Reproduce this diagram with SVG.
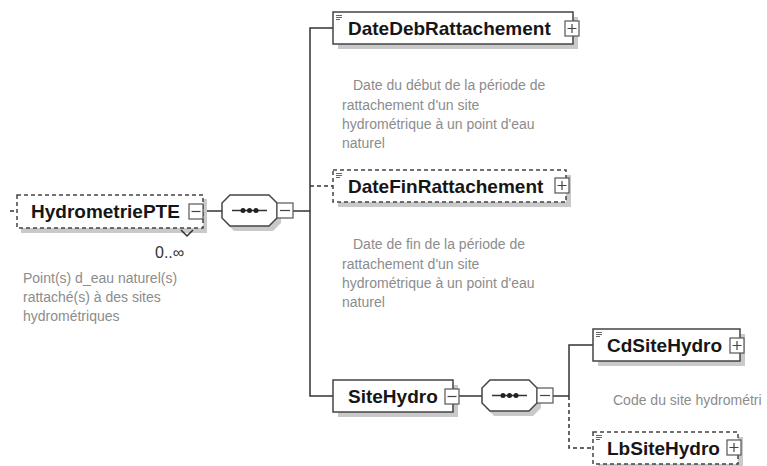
<svg xmlns="http://www.w3.org/2000/svg" xmlns:xlink="http://www.w3.org/1999/xlink" width="767" height="466" viewBox="0 0 767 466">
<style>
.box{fill:#fff;stroke:#444;stroke-width:1.5}
.opt{stroke-dasharray:4 3}
.shadow{fill:#c9c9c9}
.name{font-family:"Liberation Sans",Arial,sans-serif;font-weight:bold;font-size:19px;fill:#161616}
.desc{font-family:"Liberation Sans",Arial,sans-serif;font-size:14px;fill:#8c8c8c}
.card{font-family:"Liberation Sans",Arial,sans-serif;font-size:16px;fill:#333}
.btn{fill:#fff;stroke:#555;stroke-width:1.2}
.sign{stroke:#444;stroke-width:1.2;fill:none}
.conn{stroke:#333;stroke-width:1.5;fill:none}
.dash{stroke-dasharray:4 3}
.ic{stroke:#666;stroke-width:1;fill:none}
</style>
<defs>
<g id="plus"><rect x="0" y="0" width="14" height="15" class="btn"/><path class="sign" d="M2.5 7.5H11.5M7 3V12"/></g>
<g id="minus"><rect x="0" y="0" width="14" height="15" class="btn"/><path class="sign" d="M2.5 7.5H11.5"/></g>
<g id="icon"><path class="ic" d="M1 1.5H7M1 3.5H7M1 5.5H5"/></g>
<g id="seq">
<path class="shadow" d="M12 5H51L59 13V28L51 36H12L4 28V13Z"/>
<path class="box" d="M8 0H47L55 8V23L47 31H8L0 23V8Z"/>
<path class="conn" d="M10 15.5H45"/>
<circle cx="21" cy="15.5" r="2.5" fill="#222"/>
<circle cx="27.5" cy="15.5" r="2.5" fill="#222"/>
<circle cx="34" cy="15.5" r="2.5" fill="#222"/>
<rect x="55" y="8" width="16" height="15" class="btn"/>
<path class="sign" d="M58 15.5H68"/>
</g>
</defs>

<g id="connectors">
<path class="conn dash" d="M10 211H17"/>
<path class="conn" d="M203 211H222"/>
<path class="conn" d="M293 211H310"/>
<path class="conn" d="M333 28H310V396H333"/>
<path class="conn dash" d="M310 186H333"/>
<path class="conn" d="M459 396H482"/>
<path class="conn" d="M553 396H569"/>
<path class="conn" d="M593 345H569V396"/>
<path class="conn dash" d="M569 396V448H593"/>
</g>

<g id="HydrometriePTE">
<rect class="shadow" x="21" y="199" width="186" height="34"/>
<rect class="box opt" x="17" y="195" width="186" height="33"/>
<path class="conn" d="M181 230L187 236L193 230" stroke-width="1.2"/>
<text class="name" x="31" y="218">HydrometriePTE</text>
<use xlink:href="#minus" x="189" y="204"/>
<text class="card" x="155" y="258">0..∞</text>
<text class="desc" x="23" y="283">Point(s) d_eau naturel(s)</text>
<text class="desc" x="23" y="302">rattaché(s) à des sites</text>
<text class="desc" x="23" y="321">hydrométriques</text>
</g>

<g id="seq1">
<use xlink:href="#seq" x="222" y="195"/>
</g>

<g id="DateDebRattachement">
<rect class="shadow" x="338" y="17" width="240" height="32"/>
<rect class="box" x="333" y="12" width="240" height="32"/>
<use xlink:href="#icon" x="335" y="14"/>
<text class="name" x="348" y="35">DateDebRattachement</text>
<use xlink:href="#plus" x="565" y="21"/>
<text class="desc" x="353" y="90">Date du début de la période de</text>
<text class="desc" x="342" y="110">rattachement d'un site</text>
<text class="desc" x="342" y="129">hydrométrique à un point d'eau</text>
<text class="desc" x="342" y="148">naturel</text>
</g>

<g id="DateFinRattachement">
<rect class="shadow" x="338" y="175" width="233" height="32"/>
<rect class="box opt" x="333" y="170" width="233" height="32"/>
<use xlink:href="#icon" x="335" y="172"/>
<text class="name" x="348" y="193">DateFinRattachement</text>
<use xlink:href="#plus" x="555" y="178"/>
<text class="desc" x="353" y="249">Date de fin de la période de</text>
<text class="desc" x="342" y="269">rattachement d'un site</text>
<text class="desc" x="342" y="288">hydrométrique à un point d'eau</text>
<text class="desc" x="342" y="307">naturel</text>
</g>

<g id="SiteHydro">
<rect class="shadow" x="338" y="385" width="120" height="32"/>
<rect class="box" x="333" y="380" width="120" height="32"/>
<text class="name" x="348" y="403">SiteHydro</text>
<use xlink:href="#minus" x="445" y="389"/>
</g>

<g id="seq2">
<use xlink:href="#seq" x="482" y="380"/>
</g>

<g id="CdSiteHydro">
<rect class="shadow" x="598" y="334" width="147" height="32"/>
<rect class="box" x="593" y="329" width="147" height="32"/>
<use xlink:href="#icon" x="595" y="331"/>
<text class="name" x="607" y="352">CdSiteHydro</text>
<use xlink:href="#plus" x="730" y="338"/>
<text class="desc" x="613" y="405">Code du site hydrométri</text>
</g>

<g id="LbSiteHydro">
<rect class="shadow" x="598" y="437" width="145" height="32"/>
<rect class="box opt" x="593" y="432" width="145" height="32"/>
<use xlink:href="#icon" x="595" y="434"/>
<text class="name" x="607" y="455">LbSiteHydro</text>
<use xlink:href="#plus" x="727" y="440"/>
</g>
</svg>
